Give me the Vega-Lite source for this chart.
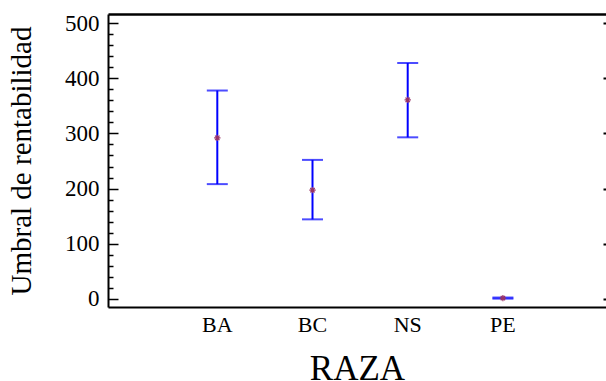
{
  "$schema": "https://vega.github.io/schema/vega-lite/v6.json",
  "width": 498,
  "height": 293,
  "autosize": {"type": "none"},
  "padding": {"left": 108, "top": 14, "right": 0, "bottom": 74},
  "background": "white",
  "config": {
    "view": {"stroke": null},
    "font": "Liberation Serif",
    "axis": {
      "labelFont": "Liberation Serif",
      "titleFont": "Liberation Serif",
      "labelColor": "black",
      "titleColor": "black",
      "domainColor": "black",
      "tickColor": "black",
      "titleFontWeight": "normal",
      "grid": false
    }
  },
  "data": {
    "values": [
      {"RAZA": "BA", "mean": 292, "low": 208, "high": 378},
      {"RAZA": "BC", "mean": 197, "low": 144, "high": 252},
      {"RAZA": "NS", "mean": 361, "low": 293, "high": 428},
      {"RAZA": "PE", "mean": 1, "low": 0, "high": 2}
    ]
  },
  "layer": [
    {
      "mark": {"type": "rule", "color": "#0000ff", "strokeWidth": 2},
      "encoding": {
        "x": {
          "field": "RAZA", "type": "nominal", "sort": null,
          "scale": {"type": "band", "paddingInner": 0.769, "paddingOuter": 1, "align": 0.5163},
          "axis": {
            "orient": "bottom", "title": "RAZA", "titleFontSize": 35,
            "labelFontSize": 22, "labelAngle": 0, "ticks": false,
            "domainWidth": 2, "labelPadding": 7, "titlePadding": 16
          }
        },
        "y": {
          "field": "low", "type": "quantitative",
          "scale": {"domain": [-15.2, 517], "nice": false, "zero": false},
          "axis": {
            "orient": "left", "title": "Umbral de rentabilidad", "titleFontSize": 29,
            "labelFontSize": 23, "domainWidth": 2, "tickWidth": 1.5,
            "values": [0,20,40,60,80,100,120,140,160,180,200,220,240,260,280,300,320,340,360,380,400,420,440,460,480,500],
            "labelExpr": "datum.value % 100 === 0 ? datum.label : ''",
            "tickSize": {"condition": {"test": "datum.value % 100 === 0", "value": -10}, "value": -5},
            "labelPadding": 19, "titlePadding": 28
          }
        },
        "y2": {"field": "high"}
      }
    },
    {
      "mark": {"type": "tick", "color": "#0000ff", "size": 21, "thickness": 2},
      "encoding": {
        "x": {"field": "RAZA", "type": "nominal", "sort": null, "axis": null},
        "y": {"field": "low", "type": "quantitative", "axis": null}
      }
    },
    {
      "mark": {"type": "tick", "color": "#0000ff", "size": 21, "thickness": 2},
      "encoding": {
        "x": {"field": "RAZA", "type": "nominal", "sort": null, "axis": null},
        "y": {"field": "high", "type": "quantitative", "axis": null}
      }
    },
    {
      "mark": {
        "type": "point", "filled": false, "color": "#993366", "strokeWidth": 1.2, "size": 40, "opacity": 1,
        "shape": "M-1,0L1,0M0,-1L0,1M-0.7,-0.7L0.7,0.7M-0.7,0.7L0.7,-0.7"
      },
      "encoding": {
        "x": {
          "field": "RAZA", "type": "nominal", "sort": null,
          "axis": {"orient": "top", "title": null, "labels": false, "ticks": false, "domainWidth": 2.5}
        },
        "y": {
          "field": "mean", "type": "quantitative",
          "axis": {
            "orient": "right", "title": null, "labels": false, "domain": false,
            "values": [0,100,200,300,400,500], "tickSize": -3, "tickWidth": 2
          }
        }
      }
    }
  ],
  "resolve": {"axis": {"x": "independent", "y": "independent"}}
}
